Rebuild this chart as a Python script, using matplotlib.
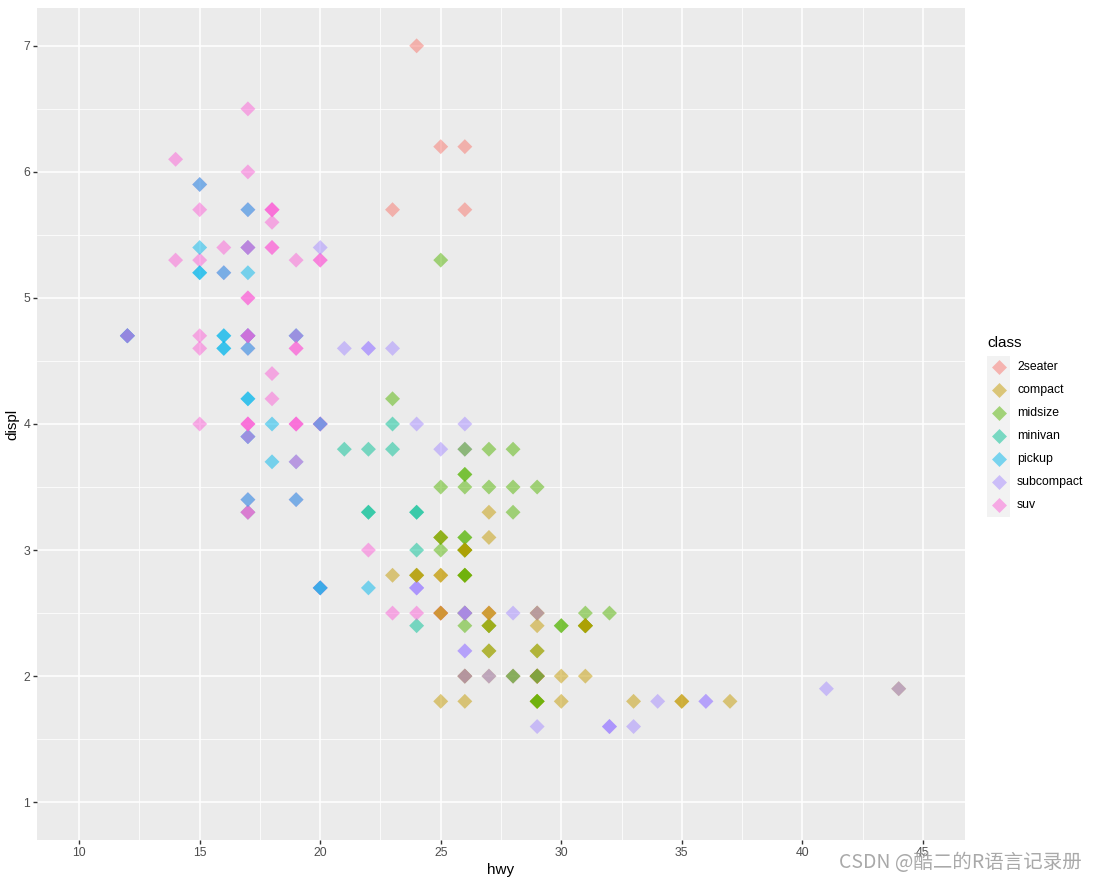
import matplotlib
matplotlib.use("Agg")
import matplotlib.pyplot as plt

# mpg data: displ, hwy, class (row order)
displ = [1.8,1.8,2.0,2.0,2.8,2.8,3.1,1.8,1.8,2.0,2.0,2.8,2.8,3.1,3.1,2.8,3.1,4.2,
         5.3,5.3,5.3,5.7,6.0,5.7,5.7,6.2,6.2,7.0,5.3,5.3,5.7,6.5,2.4,2.4,3.1,3.5,3.6,
         2.4,3.0,3.3,3.3,3.3,3.3,3.3,3.8,3.8,3.8,4.0,3.7,3.7,3.9,3.9,4.7,4.7,4.7,5.2,5.2,
         3.9,4.7,4.7,4.7,5.2,5.7,5.9,4.7,4.7,4.7,4.7,4.7,4.7,5.2,5.2,5.7,5.9,4.6,5.4,5.4,
         4.0,4.0,4.0,4.0,4.6,5.0,4.2,4.2,4.6,4.6,4.6,5.4,5.4,3.8,3.8,4.0,4.0,4.6,4.6,4.6,
         4.6,5.4,1.6,1.6,1.6,1.6,1.6,1.8,1.8,1.8,2.0,2.4,2.4,2.4,2.4,2.5,2.5,3.3,2.0,2.0,
         2.0,2.0,2.7,2.7,2.7,3.0,3.7,4.0,4.7,4.7,4.7,5.7,6.1,4.0,4.2,4.4,4.6,5.4,5.4,5.4,
         4.0,4.0,4.6,5.0,2.4,2.4,2.5,2.5,3.5,3.5,3.0,3.0,3.5,3.3,3.3,4.0,5.6,3.1,3.8,3.8,
         3.8,5.3,2.5,2.5,2.5,2.5,2.5,2.5,2.2,2.2,2.5,2.5,2.5,2.5,2.5,2.5,2.7,2.7,3.4,3.4,
         4.0,4.7,2.2,2.2,2.4,2.4,3.0,3.0,3.5,2.2,2.2,2.4,2.4,3.0,3.0,3.3,1.8,1.8,1.8,1.8,
         1.8,4.7,5.7,2.7,2.7,2.7,3.4,3.4,4.0,4.0,2.0,2.0,2.0,2.0,2.8,1.9,2.0,2.0,2.0,2.0,
         2.5,2.5,2.8,2.8,1.9,1.9,2.0,2.0,2.5,2.5,1.8,1.8,2.0,2.0,2.8,2.8,3.6]
hwy = [29,29,31,30,26,26,27,26,25,28,27,25,25,25,25,24,25,23,
       20,15,20,17,17,26,23,26,25,24,19,14,15,17,27,30,26,29,26,
       24,24,22,22,24,24,17,22,21,23,23,19,18,17,17,19,19,12,17,15,
       17,17,12,17,16,18,15,16,12,17,17,16,12,15,16,17,15,17,17,
       18,17,19,17,19,19,17,17,17,16,16,17,15,17,26,25,26,24,21,22,
       23,22,20,33,32,32,29,32,34,36,36,29,26,27,30,31,26,26,28,26,
       29,28,27,24,24,24,22,19,20,17,12,19,18,14,15,18,18,15,17,16,
       18,17,19,19,17,29,27,31,32,27,26,26,25,25,17,17,20,18,26,26,
       27,28,25,25,24,27,25,26,23,26,26,26,26,25,27,25,27,20,20,19,
       17,20,17,29,27,31,31,26,26,28,27,29,31,31,26,26,27,30,33,35,
       37,35,15,18,20,20,22,17,19,18,20,29,26,29,29,24,44,29,26,29,
       29,29,29,23,24,44,41,29,26,28,29,29,29,28,29,26,26,26]
cls = (["compact"] * 15 + ["midsize"] * 3 + ["suv"] * 5 + ["2seater"] * 5 + ["suv"] * 4
       + ["midsize"] * 5 + ["minivan"] * 11 + ["pickup"] * 9 + ["suv"] * 7 + ["pickup"] * 10
       + ["suv"] * 9 + ["pickup"] * 7 + ["subcompact"] * 18 + ["midsize"] * 7
       + ["subcompact"] * 7 + ["suv"] * 19 + ["compact"] * 2 + ["midsize"] * 7 + ["suv"] * 4
       + ["midsize"] * 5 + ["suv"] * 6 + ["subcompact"] * 4 + ["compact"] * 4 + ["suv"] * 6
       + ["midsize"] * 7 + ["compact"] * 12 + ["suv"] * 2 + ["pickup"] * 7 + ["compact"] * 14
       + ["subcompact"] * 6 + ["midsize"] * 7)

classes = ["2seater", "compact", "midsize", "minivan", "pickup", "subcompact", "suv"]
palette = ["#F8766D", "#C49A00", "#53B400", "#00C094", "#00B6EB", "#A58AFF", "#FB61D7"]
cmap = dict(zip(classes, palette))

x_ticks = [10, 15, 20, 25, 30, 35, 40, 45]
y_ticks = [1, 2, 3, 4, 5, 6, 7]

W, H = 1098, 881
fig = plt.figure(figsize=(W / 100, H / 100), dpi=100)
plt.rcParams['font.family'] = ['Liberation Sans', 'DejaVu Sans']

L, R, T, B = 37, 965, 8, 840
ax = fig.add_axes([L / W, 1 - B / H, (R - L) / W, (B - T) / H])
ax.set_facecolor("#EBEBEB")
for s in ax.spines.values():
    s.set_visible(False)

ax.set_xlim(10 - 1.75, 45 + 1.75)
ax.set_ylim(1 - 0.3, 7 + 0.3)
ax.set_xticks(x_ticks)
ax.set_yticks(y_ticks)
ax.set_xticks([12.5, 17.5, 22.5, 27.5, 32.5, 37.5, 42.5], minor=True)
ax.set_yticks([1.5, 2.5, 3.5, 4.5, 5.5, 6.5], minor=True)
ax.grid(which="major", color="white", linewidth=1.1)
ax.grid(which="minor", color="white", linewidth=0.55)
ax.set_axisbelow(True)
ax.tick_params(which="major", length=3, width=1.0, color="#333333",
               labelcolor="#4D4D4D", labelsize=8.8, pad=2)
ax.tick_params(which="minor", length=0)

colors = [cmap[c] for c in cls]
ax.scatter(hwy, displ, c=colors, marker="D", s=58, alpha=0.5, linewidths=0, zorder=3)

ax.set_xlabel("hwy", fontsize=11, color="black", labelpad=3)
ax.set_ylabel("displ", fontsize=11, color="black", labelpad=3)

# legend drawn manually
lax = fig.add_axes([0, 0, 1, 1], facecolor="none")
lax.set_xlim(0, W)
lax.set_ylim(H, 0)
lax.axis("off")
lax.text(987, 343, "class", fontsize=11, va="center", ha="left", color="black")
for i, (c, col) in enumerate(zip(classes, palette)):
    yc = 367 + i * 23
    lax.add_patch(plt.Rectangle((987, yc - 11.5), 23, 23, facecolor="#F2F2F2",
                                edgecolor="none"))
    lax.scatter([998.5], [yc], marker="D", s=58, color=col, alpha=0.5, linewidths=0)
    lax.text(1017, yc, c, fontsize=8.8, va="center", ha="left", color="black")

fig.text(1082 / W, 1 - 862 / H, "CSDN @酷二的R语言记录册", fontsize=14, ha="right",
         va="center", color="#A0A0A0", alpha=0.9,
         family=["Noto Sans CJK SC", "DejaVu Sans"])

fig.savefig("out.png", dpi=100)
